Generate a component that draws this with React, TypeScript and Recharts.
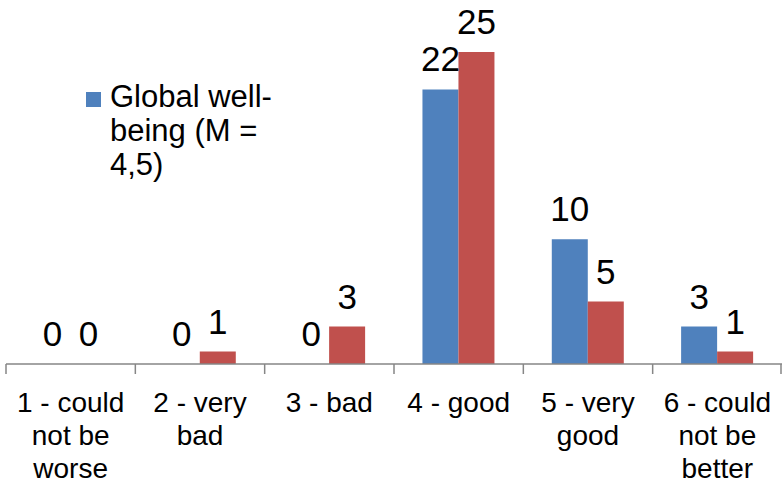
import React from "react";
import { BarChart, Bar, XAxis, YAxis, LabelList, Legend } from "recharts";

const categories = [
  "1 - could not be worse",
  "2 - very bad",
  "3 - bad",
  "4 - good",
  "5 - very good",
  "6 - could not be better",
];
const tickLines = [
  ["1 - could", "not be", "worse"],
  ["2 - very", "bad"],
  ["3 - bad"],
  ["4 - good"],
  ["5 - very", "good"],
  ["6 - could", "not be", "better"],
];
const globalWellBeing = [0, 0, 0, 22, 10, 3];
const secondSeries = [0, 1, 3, 25, 5, 1];

const data = categories.map((c, i) => ({
  name: c,
  global: globalWellBeing[i],
  second: secondSeries[i],
}));

const FONT = "'Liberation Sans', Arial, sans-serif";
const AXIS = "#868686";
const BAND = 776 / categories.length;

function CategoryTick(props: any) {
  const { x, y, index } = props;
  const lines = tickLines[index] || [];
  const half = BAND / 2;
  return (
    <g>
      <line x1={x - half} x2={x - half} y1={y} y2={y + 10} stroke={AXIS} strokeWidth={1.5} />
      {index === categories.length - 1 && (
        <line x1={x + half - 1} x2={x + half - 1} y1={y} y2={y + 10} stroke={AXIS} strokeWidth={1.5} />
      )}
      <text x={x} y={y + 48} textAnchor="middle" fontSize={28} fontFamily={FONT} fill="#000">
        {lines.map((l, i) => (
          <tspan key={i} x={x} dy={i === 0 ? 0 : 33}>
            {l}
          </tspan>
        ))}
      </text>
    </g>
  );
}

function LegendBox() {
  return (
    <div style={{ display: "flex", fontFamily: FONT, fontSize: 31, lineHeight: "34px", color: "#000" }}>
      <div style={{ width: 15, height: 15, background: "#4F81BD", marginTop: 12, marginRight: 9, flexShrink: 0 }} />
      <div style={{ width: 178 }}>Global well-being (M = 4,5)</div>
    </div>
  );
}

export default function App() {
  return (
    <div style={{ position: "absolute", left: 0, top: 0, width: 782, height: 483, background: "#fff" }}>
      <BarChart
        width={782}
        height={483}
        data={data}
        margin={{ top: 52, right: 0, bottom: 0, left: 6 }}
        barCategoryGap="22%"
        barGap={0}
      >
        <XAxis
          dataKey="name"
          interval={0}
          height={119}
          tickSize={0}
          tickMargin={0}
          tickLine={false}
          axisLine={{ stroke: AXIS, strokeWidth: 1.5 }}
          tick={<CategoryTick />}
        />
        <YAxis hide domain={[0, 25]} allowDataOverflow />
        <Legend
          layout="vertical"
          align="center"
          verticalAlign="middle"
          content={() => <LegendBox />}
          wrapperStyle={{ left: 86, top: 80, width: 210 }}
        />
        <Bar dataKey="global" name="Global well-being (M = 4,5)" fill="#4F81BD" minPointSize={0.01} isAnimationActive={false}>
          <LabelList dataKey="global" position="top" offset={18} fontSize={35} fontFamily={FONT} fill="#000" />
        </Bar>
        <Bar dataKey="second" legendType="none" fill="#C0504D" minPointSize={0.01} isAnimationActive={false}>
          <LabelList dataKey="second" position="top" offset={18} fontSize={35} fontFamily={FONT} fill="#000" />
        </Bar>
      </BarChart>
    </div>
  );
}
